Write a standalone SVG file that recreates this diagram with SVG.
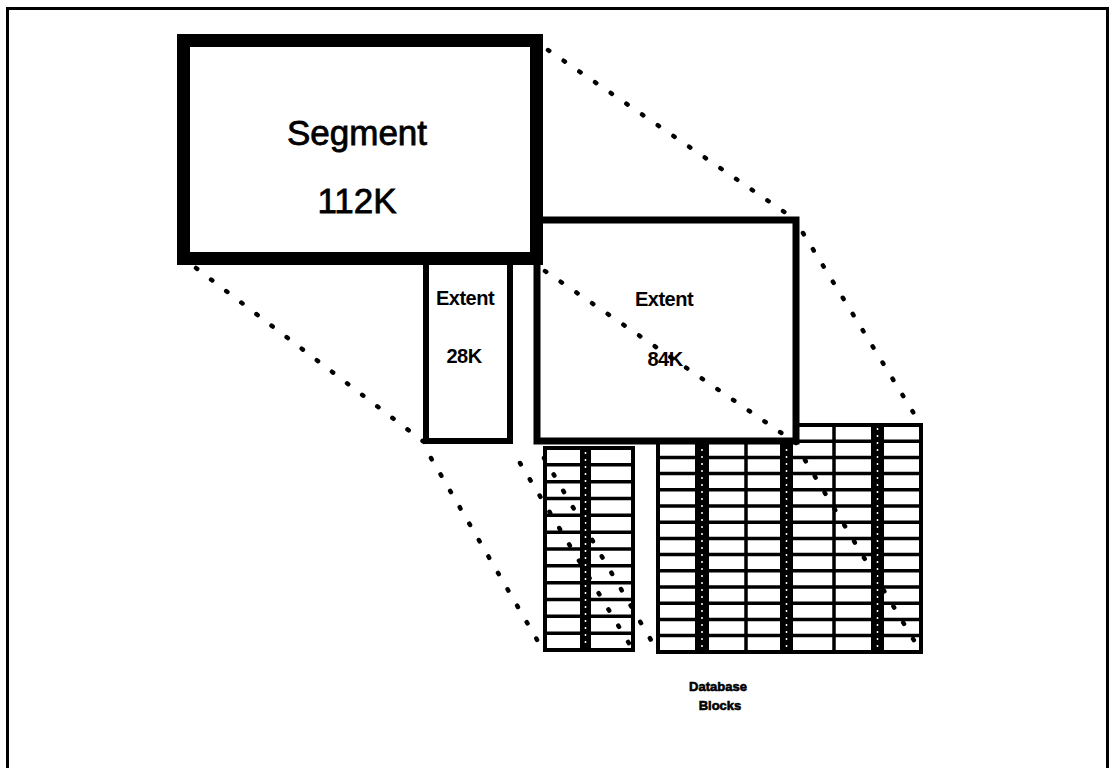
<svg xmlns="http://www.w3.org/2000/svg" width="1113" height="768" viewBox="0 0 1113 768">
<style>
.box{fill:#fff;stroke:#000;stroke-linejoin:miter}
.grid{fill:#fff;stroke:#000;stroke-width:4}
.row{stroke:#000;stroke-width:3.5}
.stripe{fill:#000}
.sdots{stroke:#fff;stroke-width:1.5;stroke-dasharray:2 5}
.dot{fill:none;stroke:#000;stroke-width:4.5;stroke-linecap:round;stroke-dasharray:1.5 17.5}
.big{font-family:"Liberation Sans",Arial,sans-serif;font-size:35px;fill:#000;stroke:#000;stroke-width:0.8;text-anchor:middle}
.mid{font-family:"Liberation Sans",Arial,sans-serif;font-size:20px;font-weight:bold;fill:#000;text-anchor:middle;letter-spacing:-0.5px}
.small{font-family:"Liberation Sans",Arial,sans-serif;font-size:13px;font-weight:bold;fill:#000;text-anchor:middle;stroke:#000;stroke-width:0.6}
</style>
<rect x="0" y="0" width="1113" height="768" fill="#fff"/>
<rect x="7.5" y="8.5" width="1100" height="780" fill="none" stroke="#000" stroke-width="3"/>

<g id="blocks-left">
<rect class="grid" x="545" y="448" width="88" height="202"/>
<g class="row">
<line x1="545" y1="464.8" x2="633" y2="464.8"/>
<line x1="545" y1="481.7" x2="633" y2="481.7"/>
<line x1="545" y1="498.5" x2="633" y2="498.5"/>
<line x1="545" y1="515.3" x2="633" y2="515.3"/>
<line x1="545" y1="532.2" x2="633" y2="532.2"/>
<line x1="545" y1="549" x2="633" y2="549"/>
<line x1="545" y1="565.8" x2="633" y2="565.8"/>
<line x1="545" y1="582.7" x2="633" y2="582.7"/>
<line x1="545" y1="599.5" x2="633" y2="599.5"/>
<line x1="545" y1="616.3" x2="633" y2="616.3"/>
<line x1="545" y1="633.2" x2="633" y2="633.2"/>
</g>
<rect class="stripe" x="580" y="448" width="11" height="202"/>
<line class="sdots" x1="585.5" y1="452" x2="585.5" y2="648"/>
</g>

<g id="blocks-right">
<rect class="grid" x="658" y="425" width="263" height="227"/>
<g class="row">
<line x1="658" y1="441.2" x2="921" y2="441.2"/>
<line x1="658" y1="457.4" x2="921" y2="457.4"/>
<line x1="658" y1="473.6" x2="921" y2="473.6"/>
<line x1="658" y1="489.8" x2="921" y2="489.8"/>
<line x1="658" y1="506" x2="921" y2="506"/>
<line x1="658" y1="522.2" x2="921" y2="522.2"/>
<line x1="658" y1="538.4" x2="921" y2="538.4"/>
<line x1="658" y1="554.6" x2="921" y2="554.6"/>
<line x1="658" y1="570.8" x2="921" y2="570.8"/>
<line x1="658" y1="587" x2="921" y2="587"/>
<line x1="658" y1="603.2" x2="921" y2="603.2"/>
<line x1="658" y1="619.4" x2="921" y2="619.4"/>
<line x1="658" y1="635.6" x2="921" y2="635.6"/>
<line x1="746" y1="425" x2="746" y2="652"/>
<line x1="834" y1="425" x2="834" y2="652"/>
</g>
<rect class="stripe" x="695" y="425" width="14" height="227"/>
<rect class="stripe" x="780" y="425" width="13" height="227"/>
<rect class="stripe" x="871" y="425" width="13" height="227"/>
<line class="sdots" x1="702" y1="428" x2="702" y2="650"/>
<line class="sdots" x1="786.5" y1="428" x2="786.5" y2="650"/>
<line class="sdots" x1="877.5" y1="428" x2="877.5" y2="650"/>
</g>

<g id="extent-28k">
<rect class="box" x="426" y="255" width="84" height="186" stroke-width="6"/>
<text class="mid" x="465" y="305">Extent</text>
<text class="mid" x="464" y="363">28K</text>
</g>

<g id="extent-84k">
<rect class="box" x="537" y="220" width="259" height="221" stroke-width="7"/>
<text class="mid" x="664" y="306">Extent</text>
<text class="mid" x="665" y="366">84K</text>
</g>

<g id="segment">
<rect class="box" x="183.5" y="40.5" width="353" height="218" stroke-width="13"/>
<text class="big" x="357" y="145">Segment</text>
<text class="big" x="357" y="213">112K</text>
</g>

<g id="connectors">
<line class="dot" x1="548" y1="50" x2="796" y2="220"/>
<line class="dot" x1="803" y1="233" x2="921" y2="425"/>
<line class="dot" x1="545" y1="271" x2="796" y2="443"/>
<line class="dot" x1="805" y1="460" x2="921" y2="652"/>
<line class="dot" x1="196" y1="268" x2="424" y2="442"/>
<line class="dot" x1="431" y1="458" x2="543" y2="650"/>
<line class="dot" x1="520" y1="463" x2="633" y2="650"/>
<line class="dot" x1="544" y1="458" x2="658" y2="652"/>
</g>

<g id="label">
<text class="small" x="718" y="691">Database</text>
<text class="small" x="720" y="710">Blocks</text>
</g>
</svg>
